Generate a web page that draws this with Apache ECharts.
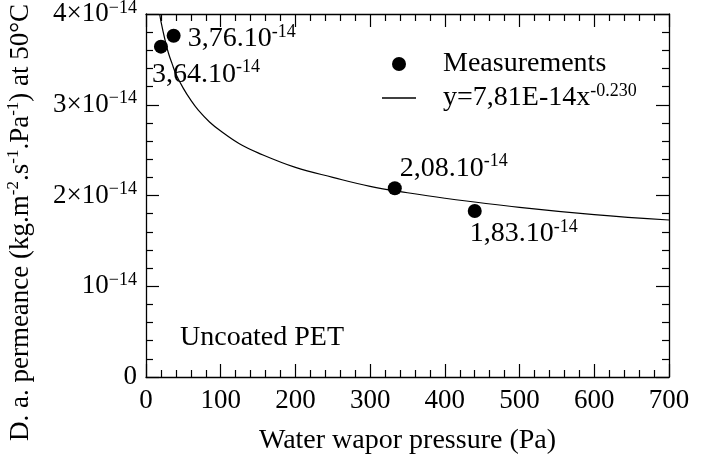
<!DOCTYPE html>
<html>
<head>
<meta charset="utf-8">
<script src="https://cdn.jsdelivr.net/npm/echarts@6/dist/echarts.min.js"></script>
<style>html,body{margin:0;padding:0;background:#fff}#c{width:707px;height:465px}</style>
</head>
<body>
<div id="c"></div>
<script>
// Measured points
const pressure = [20, 37, 333, 440];
const permeance = [3.64e-14, 3.76e-14, 2.08e-14, 1.83e-14];
const pointLabels = ['3,64.10', '3,76.10', '2,08.10', '1,83.10'];
const labelOffsets = [[-2, 35], [21, 10], [12, -13], [2, 30]];
// Fitted curve
const fitX = [18.3, 20, 25, 30, 35, 40, 50, 60, 70, 85, 100, 125, 150, 200, 250, 300, 350, 400, 500, 600, 700];
const fitY = [4.00, 3.92, 3.73, 3.57, 3.45, 3.34, 3.18, 3.05, 2.94, 2.81, 2.71, 2.57, 2.47, 2.31, 2.20, 2.10, 2.03, 1.97, 1.87, 1.79, 1.73];
const fitScale = 1e-14;
// Tick labels
const yTickLabels = ['0', '10', '2\u00d710', '3\u00d710', '4\u00d710'];
const yTickExp = '\u221214';

const FONT = 'Liberation Serif';
const chart = echarts.init(document.getElementById('c'));

const scatterData = pressure.map((x, i) => ({
  value: [x, permeance[i]],
  label: {
    show: true,
    position: labelOffsets[i],
    align: 'left',
    verticalAlign: 'middle',
    formatter: '{a|' + pointLabels[i] + '}{s|-14}'
  }
}));

const richSup = {
  a: { fontFamily: FONT, fontSize: 28, color: '#000', lineHeight: 32 },
  s: { fontFamily: FONT, fontSize: 18, color: '#000', verticalAlign: 'top', lineHeight: 16 }
};
const richTitle = {
  a: { fontFamily: FONT, fontSize: 27, color: '#000', lineHeight: 31 },
  s: { fontFamily: FONT, fontSize: 17, color: '#000', verticalAlign: 'top', lineHeight: 15 }
};
const richTick = {
  a: { fontFamily: FONT, fontSize: 27, color: '#000', lineHeight: 30 },
  s: { fontFamily: FONT, fontSize: 18, color: '#000', verticalAlign: 'top', lineHeight: 14 }
};

const axisLine = { show: true, onZero: false, lineStyle: { color: '#000', width: 1.3 } };
const axisTick = { show: true, inside: true, length: 13, lineStyle: { color: '#000', width: 1.2 } };
const minorTick = { show: true, length: 7, lineStyle: { color: '#000', width: 1.2 } };

chart.setOption({
  animation: false,
  backgroundColor: '#fff',
  grid: { left: 146, right: 38, top: 14, bottom: 88, containLabel: false, outerBoundsMode: 'none' },
  legend: {
    orient: 'vertical',
    left: 377,
    top: 45,
    itemWidth: 34,
    itemHeight: 14,
    itemGap: 4,
    selectedMode: false,
    symbolKeepAspect: true,
    textStyle: { fontFamily: FONT, fontSize: 28, color: '#000', padding: [0, 0, 0, 22], rich: richSup },
    formatter: function (name) {
      if (name === 'fit') return '{a|y=7,81E-14x}{s|-0.230}';
      return '{a|' + name + '}';
    },
    data: [
      { name: 'Measurements', icon: 'circle', itemStyle: { color: '#000', opacity: 1 } },
      { name: 'fit', icon: 'path://M0,0 L34,0 L34,1.4 L0,1.4 Z', itemStyle: { color: '#000', opacity: 1 } }
    ]
  },
  xAxis: [{
    type: 'value', min: 0, max: 700, interval: 100, position: 'bottom',
    name: 'Water wapor pressure (Pa)', nameLocation: 'middle', nameGap: 50,
    nameTextStyle: { fontFamily: FONT, fontSize: 28, color: '#000' },
    axisLine, axisTick, minorTick, splitNumber: 7,
    axisLabel: { fontFamily: FONT, fontSize: 27, color: '#000', margin: 10 },
    splitLine: { show: false }
  }, {
    type: 'value', min: 0, max: 700, interval: 100, position: 'top',
    axisLine, axisTick, minorTick,
    axisLabel: { show: false }, splitLine: { show: false }
  }],
  yAxis: [{
    type: 'value', min: 0, max: 4e-14, interval: 1e-14, position: 'left',
    name: '{a|D. a. permeance (kg.m}{s|-2}{a|.s}{s|-1}{a|.Pa}{s|-1}{a|) at 50\u00b0C}',
    nameLocation: 'middle', nameGap: 110,
    nameTextStyle: { fontFamily: FONT, fontSize: 27, color: '#000', padding: [0, 54, 0, 0], rich: richTitle },
    axisLine, axisTick, minorTick: Object.assign({ splitNumber: 5 }, minorTick),
    axisLabel: {
      margin: 9,
      formatter: function (v) {
        const k = Math.round(v / 1e-14);
        if (k === 0) return '{a|0}';
        return '{a|' + yTickLabels[k] + '}{s|' + yTickExp + '}';
      },
      rich: richTick
    },
    splitLine: { show: false }
  }, {
    type: 'value', min: 0, max: 4e-14, interval: 1e-14, position: 'right',
    axisLine, axisTick, minorTick: Object.assign({ splitNumber: 5 }, minorTick),
    axisLabel: { show: false }, splitLine: { show: false }
  }],
  series: [{
    name: 'Measurements',
    type: 'scatter',
    symbol: 'circle',
    symbolSize: 14,
    itemStyle: { color: '#000', opacity: 1 },
    label: { rich: richSup },
    data: scatterData,
    z: 3
  }, {
    name: 'fit',
    type: 'line',
    symbol: 'none',
    smooth: 0.4,
    lineStyle: { color: '#000', width: 1.2 },
    itemStyle: { color: '#000' },
    data: fitX.map((x, i) => [x, fitY[i] * fitScale]),
    z: 2
  }],
  graphic: [{
    type: 'text',
    left: 180,
    top: 324,
    style: { text: 'Uncoated PET', fontFamily: FONT, fontSize: 28, fill: '#000' }
  }]
});
</script>
</body>
</html>
